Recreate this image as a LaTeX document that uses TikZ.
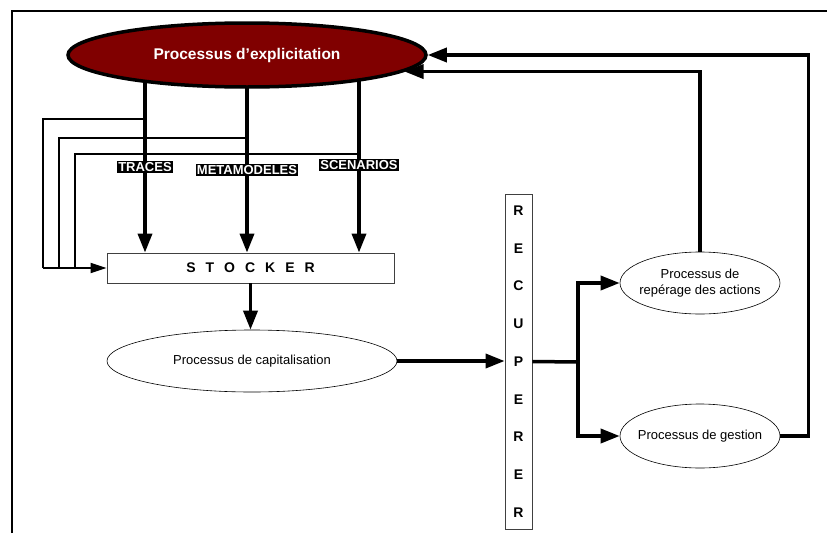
\documentclass[tikz,border=0pt]{standalone}
\usepackage{fontspec}
\setmainfont{Liberation Sans}
\usetikzlibrary{arrows.meta,shapes.geometric}
\definecolor{darkred}{HTML}{800000}
\begin{document}
\begin{tikzpicture}[x=1pt,y=-1pt,
  thickarrow/.style={line width=3.5pt,-{Triangle[length=19pt,width=14pt]}},
  thickline/.style={line width=3.5pt},
  thinarrow/.style={line width=2pt,-{Triangle[length=16pt,width=10pt]}},
  thinline/.style={line width=2pt},
  proc/.style={ellipse,draw,line width=0.6pt,inner sep=0pt,font=\fontsize{13}{15.5}\selectfont,align=center},
  lab/.style={fill=black,text=white,font=\bfseries\fontsize{13}{13}\selectfont,inner sep=1pt},
  boxed/.style={draw=black!75,line width=0.8pt,inner sep=0pt,font=\bfseries\fontsize{14}{14}\selectfont}]
\useasboundingbox (0,0) rectangle (827,533);
\draw[line width=1.5pt] (12,533) -- (12,11) -- (827,11);

% nodes
\node[ellipse,draw,line width=3.5pt,fill=darkred,text=white,minimum width=358,minimum height=64,inner sep=0pt,
      font=\bfseries\fontsize{15.5}{15.5}\selectfont] (expl) at (247,55) {Processus d’explicitation};
\node[boxed,minimum width=287,minimum height=30] (stock) at (250.5,268)
  {S\hspace{10pt}T\hspace{10pt}O\hspace{10pt}C\hspace{10pt}K\hspace{10pt}E\hspace{10pt}R};
\node[proc,minimum width=290,minimum height=62] (cap) at (252,361) {Processus de capitalisation};
\node[boxed,minimum width=27,minimum height=335,align=center,font=\bfseries\fontsize{14}{37.75}\selectfont] (recup) at (518.5,361.5)
  {R\\E\\C\\U\\P\\E\\R\\E\\R};
\node[proc,minimum width=160,minimum height=62,inner xsep=-8pt,inner ysep=-4pt] (rep) at (700,283) {Processus de\\repérage des actions};
\node[proc,minimum width=160,minimum height=64,inner xsep=-9pt] (gest) at (700,436) {Processus de gestion};

% coordinates on the main ellipse and branch points
\coordinate (a1) at (145,80);
\coordinate (a2) at (247,86);
\coordinate (a3) at (359,80);
\coordinate (b1) at (145,119);
\coordinate (b2) at (247,138);
\coordinate (b3) at (359,154);
\coordinate (f1) at (43,268);
\coordinate (f2) at (59,268);
\coordinate (f3) at (75,268);
\coordinate (split) at (578,362);

% feedback loops
\draw[thinline] (b1) -| (f1);
\draw[thinline] (b2) -| (f2);
\draw[thinline] (b3) -| (f3);
\draw[thinarrow] (f1) -- (stock.west);

% main flows
\draw[thickarrow] (a1) -- (a1 |- stock.north);
\draw[thickarrow] (a2) -- (a2 |- stock.north);
\draw[thickarrow] (a3) -- (a3 |- stock.north);
\draw[thickarrow] (stock.south) -- (stock.south |- cap.north);
\draw[thickarrow] (cap.east) -- (cap.east -| recup.west);
\draw[thickline] (recup.east) -- (split);
\draw[thickarrow] (split) |- (rep.west);
\draw[thickarrow] (split) |- (gest.west);
\draw[thickarrow] (rep.north) |- (expl.-6.2);
\draw[thickarrow] (gest.east) -- ++(28,0) |- (expl.east);

% labels
\node[lab] (l1) at (145,167) {TRACES};
\node[lab] (l2) at (247,170) {METAMODELES};
\node[lab] (l3) at (359,165) {SCENARIOS};
\end{tikzpicture}
\end{document}
